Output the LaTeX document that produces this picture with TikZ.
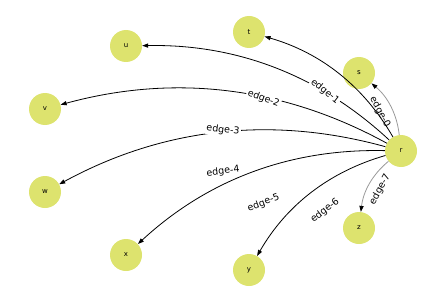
\documentclass[tikz,border=0pt]{standalone}
\usepackage{fontspec}
\setmainfont{DejaVu Sans}
\usetikzlibrary{arrows.meta}
\definecolor{nodefill}{RGB}{221,227,110}
\begin{document}
\begin{tikzpicture}[x=1pt,y=1pt,
  vtx/.style={circle,fill=nodefill,minimum size=32pt,inner sep=0pt,font=\fontsize{7}{8}\selectfont},
  lnk/.style={draw=black,line width=0.8pt,-{Triangle[length=6pt,width=4.2pt,color=black]},bend right=22,looseness=0.92},
  faint/.style={draw=black!40},
  lbl/.style={fill=white,inner sep=1.2pt,font=\fontsize{9.5}{10}\selectfont,sloped},
  lblclear/.style={lbl,fill=none}
]
\useasboundingbox (0,0) rectangle (446,-302);
\node[vtx] (r) at (401,-151) {r};
\node[vtx] (s) at (359,-73) {s};
\node[vtx] (t) at (249,-32) {t};
\node[vtx] (u) at (126,-46) {u};
\node[vtx] (v) at (45,-109) {v};
\node[vtx] (w) at (45,-192) {w};
\node[vtx] (x) at (126,-255) {x};
\node[vtx] (y) at (249,-270) {y};
\node[vtx] (z) at (359,-228) {z};
\draw[lnk,faint] (r) to (s);
\draw[lnk] (r) to (t);
\draw[lnk] (r) to (u);
\draw[lnk] (r) to (v);
\draw[lnk] (r) to (w);
\draw[lnk] (r) to (x);
\draw[lnk] (r) to (y);
\draw[lnk,faint] (r) to (z);
\path (r) -- node[lblclear] (l0) {edge-0} (s);
\path (r) -- node[lbl] (l1) {edge-1} (t);
\path (r) -- node[lbl] (l2) {edge-2} (u);
\path (r) -- node[lbl] (l3) {edge-3} (v);
\path (r) -- node[lbl] (l4) {edge-4} (w);
\path (r) -- node[lbl] (l5) {edge-5} (x);
\path (r) -- node[lbl] (l6) {edge-6} (y);
\path (r) -- node[lblclear] (l7) {edge-7} (z);
\end{tikzpicture}
\end{document}
